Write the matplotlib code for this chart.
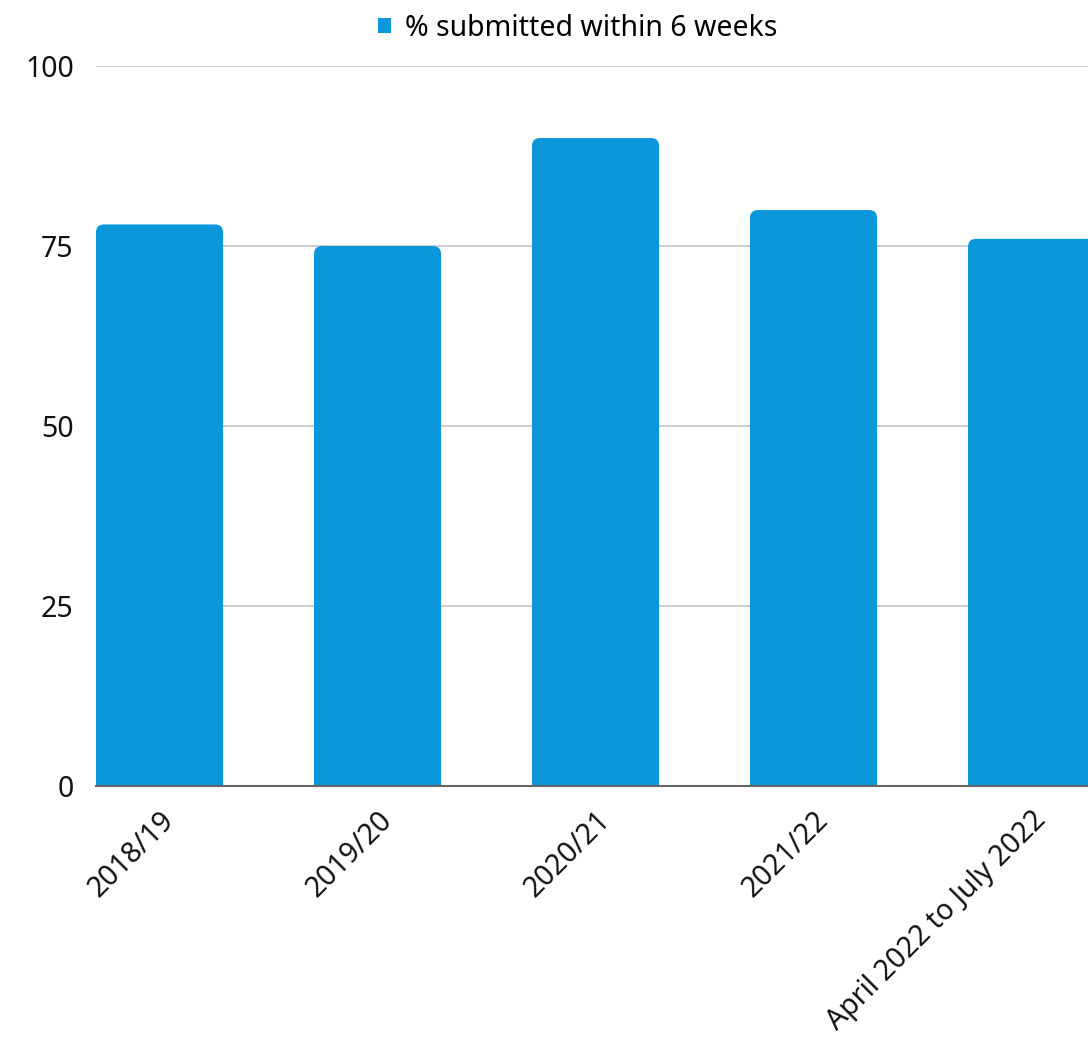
import matplotlib.pyplot as plt
from matplotlib.patches import FancyBboxPatch, Patch

plt.rcParams["font.family"] = ["Noto Sans", "DejaVu Sans"]

periods = ["2018/19", "2019/20", "2020/21", "2021/22", "April 2022 to July 2022"]
pct_within_6wk = [78, 75, 90, 80, 76]
yticks = [0, 25, 50, 75, 100]

bar_color = "#0b97d9"
width = 0.583
fs = 20.5

fig = plt.figure(figsize=(10.88, 10.45), dpi=100)
ax = fig.add_axes([0.0882, 0.2478, 0.9118, 0.689])

ax.set_xlim(-width / 2, 4.259)
ax.set_ylim(0, 100)

# bars with rounded tops: start below zero so the lower corners get clipped
x_px = ax.get_position().width * fig.get_figwidth() * fig.dpi / (4.259 + width / 2)
y_px = ax.get_position().height * fig.get_figheight() * fig.dpi / 100
r = 8 / x_px
for i, v in enumerate(pct_within_6wk):
    p = FancyBboxPatch((i - width / 2, -5), width, v + 5,
                       boxstyle=f"round,pad=0,rounding_size={r}",
                       mutation_aspect=x_px / y_px,
                       fc=bar_color, ec="none", zorder=3)
    ax.add_patch(p)

ax.set_yticks(yticks)
ax.set_yticklabels([str(t) for t in yticks], fontsize=fs, color="#111111")
ax.set_xticks(range(len(periods)))
ax.set_xticklabels(periods, rotation=45, ha="right", rotation_mode="anchor",
                   fontsize=fs, color="#111111")
ax.tick_params(axis="both", length=0)
ax.tick_params(axis="y", pad=16)
ax.tick_params(axis="x", pad=14)

ax.grid(axis="y", color="#c4c4c4", linewidth=1.2, zorder=0)
ax.set_axisbelow(True)
for s in ["top", "right", "left"]:
    ax.spines[s].set_visible(False)
ax.spines["bottom"].set_color("#666666")
ax.spines["bottom"].set_linewidth(1.5)
ax.spines["bottom"].set_zorder(4)

handle = Patch(facecolor=bar_color, edgecolor="none")
fig.legend([handle], ["% submitted within 6 weeks"], loc="center",
           bbox_to_anchor=(0.531, 0.973), frameon=False, fontsize=fs,
           handlelength=0.45, handleheight=0.45, handletextpad=0.5)

fig.savefig("out.png", dpi=100)
